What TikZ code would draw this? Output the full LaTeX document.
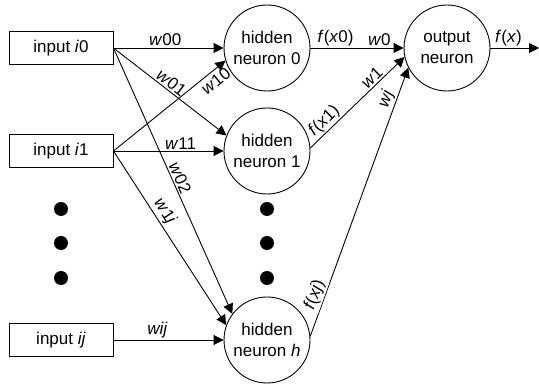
\documentclass[tikz,border=0pt]{standalone}
\usepackage{fontspec}
\setmainfont{Liberation Sans}
\usetikzlibrary{arrows.meta}
\begin{document}
\begin{tikzpicture}[x=1pt,y=-1pt,
  every node/.style={font=\fontsize{17}{21}\selectfont},
  inbox/.style={draw, line width=0.9pt, minimum width=104pt, minimum height=33pt, inner sep=0pt},
  neuron/.style={draw, circle, line width=0.9pt, minimum size=86pt, inner sep=0pt, align=center},
  conn/.style={line width=0.9pt, -{Triangle[length=10pt,width=10pt]}},
  lbl/.style={sloped, inner sep=1.5pt},
  bigdot/.style={circle, fill, minimum size=14pt, inner sep=0pt}]
\useasboundingbox (0,0) rectangle (539,387);
% inputs
\node[inbox] (i0) at (61,48) {input \textit{i}0};
\node[inbox] (i1) at (61,151) {input \textit{i}1};
\node[inbox] (ij) at (61,340) {input \textit{ij}};
% hidden
\node[neuron] (h0) at (267,48) {hidden\\neuron 0};
\node[neuron] (h1) at (267,151) {hidden\\neuron 1};
\node[neuron] (hh) at (267,340) {hidden\\neuron \textit{h}};
% output
\node[neuron] (out) at (447,48) {output\\neuron};
\coordinate (end) at (539,48);
% dots
\node[bigdot] (d1) at (61,209) {};
\node[bigdot] (d2) at (61,243) {};
\node[bigdot] (d3) at (61,278) {};
\node[bigdot] (d4) at (267,209) {};
\node[bigdot] (d5) at (267,243) {};
\node[bigdot] (d6) at (267,278) {};
% input -> hidden
\draw[conn] (i0.east) -- node[lbl, above, pos=0.47] {\textit{w}00} (h0.west);
\draw[conn] (i0.east) -- node[lbl, above, pos=0.47] {\textit{w}01} (h1.159);
\draw[conn] (i0.east) -- node[lbl, above, pos=0.5] {\textit{w}02} (hh.143);
\draw[conn] (i1.east) -- node[lbl, below, pos=0.86, inner sep=3pt] {\textit{w}10} (h0.197);
\draw[conn] (i1.east) -- node[lbl, above, pos=0.61] {\textit{w}11} (h1.west);
\draw[conn] (i1.east) -- node[lbl, above, pos=0.38] {\textit{w}1\textit{j}} (hh.160);
\draw[conn] (ij.east) -- node[lbl, above, pos=0.4] {\textit{wij}} (hh.west);
% hidden -> output
\draw[conn] (h0.east) -- node[lbl, above, pos=0.27] {\textit{f}(\textit{x}0)}
  node[lbl, above, pos=0.74] {\textit{w}0} (out.west);
\draw[conn] (h1.4) -- node[lbl, above, pos=0.22] {\textit{f}(\textit{x}1)}
  node[lbl, above, pos=0.71] {\textit{w}1} (out.192);
\draw[conn] (hh.5) -- node[lbl, above, pos=0.14, fill=white] {\textit{f}(\textit{xj})}
  node[lbl, above, pos=0.87] {\textit{wj}} (out.207);
\draw[conn] (out.east) -- node[lbl, above, pos=0.37] {\textit{f}(\textit{x})} (end);
\end{tikzpicture}
\end{document}
